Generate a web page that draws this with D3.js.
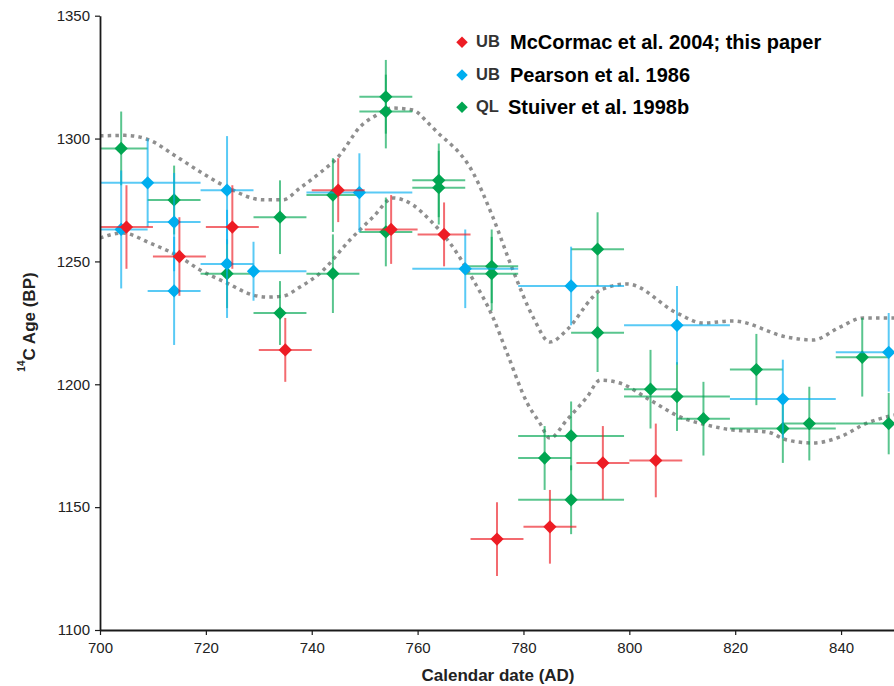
<!DOCTYPE html>
<html>
<head>
<meta charset="utf-8">
<script src="https://cdn.jsdelivr.net/npm/d3@7"></script>
<style>
  body { margin: 0; background: #fff; }
  svg { display: block; font-family: "Liberation Sans", Arial, Helvetica, sans-serif; }
</style>
</head>
<body>
<svg id="chart" width="894" height="686"></svg>
<script>
// --- data ---
// red: UB McCormac et al. 2004 (decadal)
const redX  = [705, 715, 725, 735, 745, 755, 765, 775, 785, 795, 805]
const redX0 = [700, 710, 720, 730, 740, 750, 760, 770, 780, 790, 800]
const redX1 = [710, 720, 730, 740, 750, 760, 770, 780, 790, 800, 810]
const redY  = [1264, 1252, 1264, 1214, 1279, 1263, 1261, 1137, 1142, 1168, 1169]
const redE  = [17, 16, 17, 13, 13, 14, 13, 15, 15, 15, 15]

// blue: UB Pearson et al. 1986
const blueX  = [704, 709, 714, 714, 724, 724, 729, 749, 769, 789, 809, 829, 849]
const blueX0 = [699, 699, 709, 709, 719, 719, 729, 739, 759, 779, 799, 819, 839]
const blueX1 = [709, 719, 719, 719, 729, 729, 739, 759, 779, 799, 819, 839, 859]
const blueY  = [1263, 1282, 1266, 1238, 1279, 1249, 1246, 1278, 1247, 1240, 1224, 1194, 1213]
const blueE  = [24, 18, 20, 22, 22, 22, 12, 16, 16, 16, 16, 16, 16]

// green: QL Stuiver et al. 1998b
const greenX  = [704, 714, 724, 734, 734, 744, 744, 754, 754, 754, 764, 764, 774, 774, 794, 794, 789, 784, 789, 804, 809, 814, 824, 829, 834, 844, 849]
const greenX0 = [699, 709, 719, 729, 729, 739, 739, 749, 749, 749, 759, 759, 769, 769, 789, 789, 779, 779, 779, 799, 799, 809, 819, 819, 829, 839, 839]
const greenX1 = [709, 719, 729, 739, 739, 749, 749, 759, 759, 759, 769, 769, 779, 779, 799, 799, 799, 789, 799, 809, 819, 819, 829, 839, 839, 849, 859]
const greenY  = [1296, 1275, 1245, 1268, 1229, 1277, 1245, 1262, 1317, 1311, 1283, 1280, 1248, 1245, 1255, 1221, 1179, 1170, 1153, 1198, 1195, 1186, 1206, 1182, 1184, 1211, 1184]
const greenE  = [15, 14, 14, 15, 13, 15, 16, 14, 15, 15, 15, 15, 15, 15, 15, 16, 14, 13, 14, 16, 14, 15, 14.5, 14, 15, 16, 12.5]

// calibration curve envelope (upper / lower), dotted grey
const upperX = [700, 704.7, 709.1, 714.2, 718.9, 723.9, 730.8, 734.6, 737.8, 741.6, 745.3, 749.1, 752.3, 755.2, 759.1, 762, 763.3, 770.5, 774.2, 778, 781.8, 785, 788.2, 793.1, 794.5, 799.6, 809, 813.9, 819.6, 829.8, 834.7, 839.8, 844.2, 850]
const upperY = [1301.1, 1301.3, 1299.6, 1293, 1286.5, 1280.3, 1275.1, 1275.1, 1279.9, 1286.1, 1293.3, 1304.7, 1309.6, 1312.4, 1311.6, 1306.3, 1303.5, 1286, 1268.1, 1246.5, 1227.4, 1217.2, 1222.1, 1235.5, 1238.3, 1240.8, 1229, 1224.9, 1225.8, 1219.2, 1218, 1223.3, 1227, 1227]
const lowerX = [700, 704.3, 709.4, 715.1, 718.9, 724, 728.9, 731.6, 734.6, 737.8, 741.6, 747.2, 751.6, 755.4, 759.1, 762.3, 766.1, 770.5, 774.2, 776.9, 780.7, 783.1, 785, 788.2, 792, 794.5, 798.2, 803.9, 809.6, 814.7, 819.6, 826, 829.8, 834.7, 839.8, 844.9, 850]
const lowerY = [1259.5, 1261.6, 1257.5, 1251.8, 1246.5, 1241.2, 1236.3, 1235.5, 1235.9, 1239.6, 1245.3, 1258.7, 1268.1, 1275.8, 1273, 1266.9, 1257.5, 1242.5, 1227.4, 1212.7, 1192.4, 1184.2, 1178.1, 1185.5, 1194.8, 1201.7, 1200.5, 1193.6, 1186.7, 1183.4, 1181.4, 1180.6, 1177.3, 1176.1, 1178.6, 1184.2, 1187.5]

const xTicks = [700, 720, 740, 760, 780, 800, 820, 840]
const yTicks = [1100, 1150, 1200, 1250, 1300, 1350]

const legendCodes  = ["UB", "UB", "QL"]
const legendLabels = ["McCormac et al. 2004; this paper", "Pearson et al. 1986", "Stuiver et al. 1998b"]
const legendColors = ["#ed1c24", "#00aeef", "#00a651"]

// --- layout ---
const svg = d3.select("#chart")
const padL = 100, padR = 894, padT = 15.7, padB = 630

const x = d3.scaleLinear().domain([700, 850]).range([padL, padR])
const y = d3.scaleLinear().domain([1100, 1350]).range([padB, padT])

svg.append("defs").append("clipPath").attr("id", "plotclip")
  .append("rect")
  .attr("x", padL).attr("y", 0)
  .attr("width", padR - padL).attr("height", padB)

const plot = svg.append("g").attr("clip-path", "url(#plotclip)")

// dotted envelope lines
let line = d3.line()
  .x(d => x(d[0]))
  .y(d => y(d[1]))
  .curve(d3.curveMonotoneX)

let envelopes = [d3.zip(upperX, upperY), d3.zip(lowerX, lowerY)]
plot.selectAll("path.env")
  .data(envelopes)
  .join("path")
  .attr("class", "env")
  .attr("d", line)
  .attr("fill", "none")
  .attr("stroke", "#8f8f8f")
  .attr("stroke-width", 3.5)
  .attr("stroke-dasharray", "3.5,4.2")

// one series = error crosses + diamonds
const diamond = d3.symbol().type(d3.symbolSquare).size(88)

let drawSeries = (xs, x0s, x1s, ys, es, color) => {
  let pts = xs.map((v, i) => ({x: v, x0: x0s[i], x1: x1s[i], y: ys[i], e: es[i]}))
  let g = plot.append("g")

  g.selectAll("line.h")
    .data(pts)
    .join("line")
    .attr("class", "h")
    .attr("x1", d => x(d.x0)).attr("x2", d => x(d.x1))
    .attr("y1", d => y(d.y)).attr("y2", d => y(d.y))
    .attr("stroke", color).attr("stroke-width", 2).attr("stroke-opacity", 0.65)

  g.selectAll("line.v")
    .data(pts)
    .join("line")
    .attr("class", "v")
    .attr("x1", d => x(d.x)).attr("x2", d => x(d.x))
    .attr("y1", d => y(d.y + d.e)).attr("y2", d => y(d.y - d.e))
    .attr("stroke", color).attr("stroke-width", 2).attr("stroke-opacity", 0.65)

  g.selectAll("path.pt")
    .data(pts)
    .join("path")
    .attr("class", "pt")
    .attr("d", diamond)
    .attr("transform", d => "translate(" + x(d.x) + "," + y(d.y) + ") rotate(45)")
    .attr("fill", color)
}

drawSeries(greenX, greenX0, greenX1, greenY, greenE, legendColors[2])
drawSeries(blueX, blueX0, blueX1, blueY, blueE, legendColors[1])
drawSeries(redX, redX0, redX1, redY, redE, legendColors[0])

// --- axes ---
let xAxis = svg.append("g")
  .attr("transform", "translate(0," + padB + ")")
  .call(d3.axisBottom(x).tickValues(xTicks).tickFormat(d3.format("d")).tickSize(5).tickSizeOuter(0).tickPadding(7))

let yAxis = svg.append("g")
  .attr("transform", "translate(" + padL + ",0)")
  .call(d3.axisLeft(y).tickValues(yTicks).tickFormat(d3.format("d")).tickSize(5).tickSizeOuter(0).tickPadding(5))

for (let ax of [xAxis, yAxis]) {
  ax.select(".domain").attr("stroke", "#1a1a1a").attr("stroke-width", 1.8)
  ax.selectAll(".tick line").attr("stroke", "#1a1a1a").attr("stroke-width", 1.2)
  ax.selectAll(".tick text")
    .attr("fill", "#222")
    .style("font-size", "15px")
    .style("font-family", "'Liberation Sans', Arial, sans-serif")
}

svg.append("text")
  .attr("x", 498).attr("y", 681)
  .attr("text-anchor", "middle")
  .style("font-size", "17px").style("font-weight", "bold")
  .attr("fill", "#222")
  .text("Calendar date (AD)")

let ylab = svg.append("text")
  .attr("transform", "translate(31,322) rotate(-90)")
  .attr("text-anchor", "middle")
  .style("font-size", "17px").style("font-weight", "bold")
  .attr("fill", "#222")
ylab.append("tspan").style("font-size", "10px").attr("dy", "-0.6em").text("14")
ylab.append("tspan").attr("dy", "0.6em").text("C Age (BP)")

// --- legend ---
const legendY = [42.3, 75, 107.3]
let leg = svg.append("g")
legendLabels.forEach((lab, i) => {
  leg.append("path")
    .attr("d", d3.symbol().type(d3.symbolSquare).size(66)())
    .attr("transform", "translate(462," + legendY[i] + ") rotate(45)")
    .attr("fill", legendColors[i])
  leg.append("text")
    .attr("x", 476).attr("y", legendY[i] + 5)
    .style("font-size", "16.5px").style("font-weight", "bold")
    .attr("fill", "#333")
    .text(legendCodes[i])
  leg.append("text")
    .attr("x", i == 2 ? 508 : 510).attr("y", legendY[i] + 6.5)
    .style("font-size", "20px").style("font-weight", "bold")
    .attr("fill", "#000")
    .text(lab)
})
</script>
</body>
</html>
